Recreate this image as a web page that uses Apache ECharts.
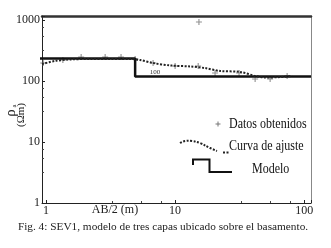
<!DOCTYPE html>
<html>
<head>
<meta charset="utf-8">
<script src="https://cdn.jsdelivr.net/npm/echarts@6/dist/echarts.min.js"></script>
<style>
  html, body { margin: 0; padding: 0; background: #fff; }
  #chart { width: 331px; height: 248px; }
</style>
</head>
<body>
<div id="chart"></div>
<script>
// measured apparent resistivity (AB/2 in m, rho in ohm.m)
var dataX = [0.95, 1.35, 1.87, 2.87, 3.81, 4.9, 6.75, 10.0, 15.1, 15.3, 20.4, 31.3, 41.7, 54.5, 73.8];
var dataY = [197, 221, 247, 247, 247, 230, 197, 176, 176, 927, 135, 135, 108, 108, 121];

// fitted curve
var curveX = [0.93, 1.17, 1.53, 2.19, 3.13, 4.48, 5.35, 6.75, 9.15, 13.1, 17.1, 22.3, 31.9, 41.7, 49.9, 65.2, 80.7];
var curveY = [190, 213, 225, 230, 230, 230, 221, 197, 180, 173, 163, 146, 141, 121, 114, 116, 121];

// layered model (step)
var modelX = [0.526, 0.526, 4.9, 4.9, 113];
var modelY = [176, 234, 234, 119, 119];

var xTicks = [1, 10, 100];
var yTicks = [1, 10, 100, 1000];

var serif = 'Liberation Serif';

function zip(xs, ys) {
  var out = [];
  for (var i = 0; i < xs.length; i++) {
    out.push([xs[i], ys[i]]);
  }
  return out;
}

function tickLabel(list) {
  return function (v) {
    for (var i = 0; i < list.length; i++) {
      if (Math.abs(v - list[i]) / list[i] < 0.01) return '' + list[i];
    }
    return '';
  };
}

var plusIcon = 'path://M3.25,0h1.5v3.25h3.25v1.5h-3.25v3.25h-1.5v-3.25h-3.25v-1.5h3.25z';

var chart = echarts.init(document.getElementById('chart'));

var option = {
  animation: false,
  grid: { left: 42, right: 20, top: 16, bottom: 45 },
  xAxis: [
    {
      type: 'log', min: 0.93, max: 113,
      axisLine: { lineStyle: { color: '#222', width: 1 } },
      axisTick: { inside: true, length: 3, lineStyle: { color: '#222' } },
      minorTick: { show: true, splitNumber: 4, length: 2, lineStyle: { color: '#444' } },
      splitLine: { show: false },
      axisLabel: { formatter: tickLabel(xTicks), fontFamily: serif, fontSize: 12, color: '#222', margin: 2 }
    },
    {
      type: 'log', min: 0.93, max: 113, position: 'top',
      axisLine: { lineStyle: { color: '#333', width: 2.5 } },
      axisTick: { show: false }, axisLabel: { show: false }, splitLine: { show: false }
    }
  ],
  yAxis: [
    {
      type: 'log', min: 1, max: 1163,
      axisLine: { lineStyle: { color: '#222', width: 1 } },
      axisTick: { inside: true, length: 3, lineStyle: { color: '#222' } },
      minorTick: { show: true, splitNumber: 4, length: 2, lineStyle: { color: '#444' } },
      splitLine: { show: false },
      axisLabel: { formatter: tickLabel(yTicks), fontFamily: serif, fontSize: 12, color: '#222', margin: 2 }
    },
    {
      type: 'log', min: 1, max: 1163, position: 'right',
      axisLine: { show: true, lineStyle: { color: '#888', width: 1 } },
      axisTick: { show: false }, axisLabel: { show: false }, splitLine: { show: false }
    }
  ],
  series: [
    {
      name: 'Modelo', type: 'line', data: zip(modelX, modelY),
      showSymbol: false, clip: false,
      lineStyle: { color: '#111', width: 2.5 }
    },
    {
      name: 'Curva de ajuste', type: 'line', data: zip(curveX, curveY),
      showSymbol: false, smooth: 0.3,
      lineStyle: { color: '#222', width: 2, type: [2, 1.5] }
    },
    {
      name: 'Datos obtenidos', type: 'scatter', data: zip(dataX, dataY),
      symbol: plusIcon, symbolSize: 6,
      itemStyle: { color: '#777' }
    }
  ],
  graphic: [
    // axis titles
    { type: 'text', x: 115, y: 210, style: { text: 'AB/2 (m)', font: '12px "Liberation Serif"', fill: '#222', align: 'center', verticalAlign: 'middle' } },
    { type: 'text', x: 11, y: 113, rotation: Math.PI / 2, style: { text: 'ρ', font: '15px "Liberation Serif"', fill: '#222', align: 'center', verticalAlign: 'middle' } },
    { type: 'text', x: 14, y: 106, rotation: Math.PI / 2, style: { text: 'a', font: '7px "Liberation Serif"', fill: '#222', align: 'center', verticalAlign: 'middle' } },
    { type: 'text', x: 21, y: 115, rotation: Math.PI / 2, style: { text: '(Ωm)', font: '11px "Liberation Serif"', fill: '#222', align: 'center', verticalAlign: 'middle' } },
    // small layer label
    { type: 'text', x: 155, y: 72, style: { text: '100', font: '7px "Liberation Serif"', fill: '#333', align: 'center', verticalAlign: 'middle' } },
    // legend
    { type: 'line', shape: { x1: 215.5, y1: 124, x2: 220.5, y2: 124 }, style: { stroke: '#777', lineWidth: 1 } },
    { type: 'line', shape: { x1: 218, y1: 121.5, x2: 218, y2: 126.5 }, style: { stroke: '#777', lineWidth: 1 } },
    { type: 'text', x: 229, y: 124, scaleX: 0.8, style: { text: 'Datos obtenidos', font: '15px "Liberation Serif"', fill: '#111', verticalAlign: 'middle' } },
    { type: 'polyline', shape: { points: [[180, 143], [185, 141], [192, 141], [200, 143], [210, 148], [217, 151]], smooth: 0.4 }, style: { stroke: '#222', lineWidth: 2, fill: null, lineDash: [2, 1.5] } },
    { type: 'line', shape: { x1: 223, y1: 152.5, x2: 230, y2: 152.5 }, style: { stroke: '#222', lineWidth: 2, lineDash: [2, 1.5] } },
    { type: 'text', x: 229, y: 146, scaleX: 0.8, style: { text: 'Curva de ajuste', font: '15px "Liberation Serif"', fill: '#111', verticalAlign: 'middle' } },
    { type: 'polyline', shape: { points: [[193, 165], [193, 159.5], [209.5, 159.5], [209.5, 172], [232, 172]] }, style: { stroke: '#111', lineWidth: 2, fill: null } },
    { type: 'text', x: 252, y: 169, scaleX: 0.8, style: { text: 'Modelo', font: '15px "Liberation Serif"', fill: '#111', verticalAlign: 'middle' } },
    // caption
    { type: 'text', x: 163, y: 227, style: { text: 'Fig. 4: SEV1, modelo de tres capas ubicado sobre el basamento.', font: '11.3px "Liberation Serif"', fill: '#222', align: 'center', verticalAlign: 'middle' } }
  ]
};

chart.setOption(option);
</script>
</body>
</html>
